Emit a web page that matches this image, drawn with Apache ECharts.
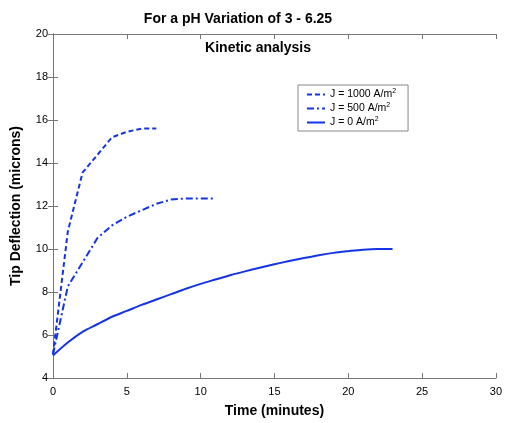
<!DOCTYPE html>
<html><head><meta charset="utf-8">
<script src="https://cdn.jsdelivr.net/npm/echarts@6/dist/echarts.min.js"></script>
<style>html,body{margin:0;padding:0;background:#fff}#c{width:505px;height:423px}</style>
</head><body><div id="c"></div>
<script>
const seriesNames = ['J = 1000 A/m2', 'J = 500 A/m2', 'J = 0 A/m2'];
const t1000 = [0, 1, 2, 4, 5, 6, 7];
const v1000 = [5.1, 10.8, 13.55, 15.2, 15.45, 15.6, 15.6];
const t500 = [0, 1, 3, 4, 5, 7, 8, 9, 11];
const v500 = [5.1, 8.25, 10.5, 11.1, 11.5, 12.1, 12.3, 12.35, 12.35];
const t0 = [0, 1, 2, 3, 4, 5, 6, 7, 8, 9, 10, 11, 12, 13, 14, 15, 16, 17, 18, 19, 20, 21, 22, 23];
const v0 = [5.05, 5.65, 6.15, 6.5, 6.85, 7.12, 7.4, 7.65, 7.9, 8.15, 8.38, 8.58, 8.78, 8.96, 9.13, 9.29, 9.44, 9.58, 9.71, 9.82, 9.9, 9.97, 10.0, 10.0];
const xTicks = [0, 5, 10, 15, 20, 25, 30];
const yTicks = [4, 6, 8, 10, 12, 14, 16, 18, 20];

const zip = (a, b) => a.map((x, i) => [x, b[i]]);
const blue = '#1434e6';
const font = 'Liberation Sans, Arial, Helvetica, sans-serif';
const axisCol = '#777';
const chart = echarts.init(document.getElementById('c'), null, {renderer: 'canvas'});
const common = {
  axisLine: {show: true, lineStyle: {color: axisCol, width: 1}},
  axisTick: {show: true, inside: true, length: 5, lineStyle: {color: axisCol}},
  splitLine: {show: false}
};
const lbl = {color: '#000', fontSize: 11, fontFamily: font};
const titleStyle = {fontSize: 14, fontWeight: 'bold', fontFamily: font, color: '#000'};
chart.setOption({
  animation: false,
  backgroundColor: '#fff',
  title: [
    {text: 'For a pH Variation of 3 - 6.25', left: 238, top: 12, textAlign: 'center', padding: 0,
     textStyle: titleStyle},
    {text: 'Kinetic analysis', left: 258, top: 41, textAlign: 'center', padding: 0,
     textStyle: titleStyle}
  ],
  grid: {left: 53, right: 8, top: 34, bottom: 38, containLabel: false},
  legend: {
    orient: 'vertical', left: 298, top: 85,
    data: seriesNames,
    backgroundColor: '#fff', borderColor: '#888', borderWidth: 1,
    padding: [3, 12, 3, 8], itemGap: 2, itemWidth: 18, itemHeight: 10,
    itemStyle: {opacity: 0},
    textStyle: {fontSize: 10.5, fontFamily: font, color: '#000',
      rich: {sup: {fontSize: 7, verticalAlign: 'top', padding: [0, 0, 6, 0]}}},
    formatter: n => n.replace(/m2$/, 'm{sup|2}')
  },
  xAxis: [
    Object.assign({type: 'value', min: 0, max: 30, interval: 5, position: 'bottom',
      name: 'Time (minutes)', nameLocation: 'middle', nameGap: 26,
      nameTextStyle: titleStyle,
      axisLabel: Object.assign({margin: 8, customValues: xTicks}, lbl)}, common),
    Object.assign({type: 'value', min: 0, max: 30, interval: 5, position: 'top',
      axisLabel: {show: false}}, common)
  ],
  yAxis: [
    Object.assign({type: 'value', min: 4, max: 20, interval: 2, position: 'left',
      name: 'Tip Deflection (microns)', nameLocation: 'middle', nameGap: 30,
      nameTextStyle: titleStyle,
      axisLabel: Object.assign({margin: 5}, lbl)}, common),
    Object.assign({type: 'value', min: 4, max: 20, interval: 2, position: 'right',
      axisLabel: {show: false}}, common)
  ],
  series: [
    {name: seriesNames[0], type: 'line', data: zip(t1000, v1000), showSymbol: false, symbol: 'none',
     lineStyle: {color: blue, width: 2, type: [5, 3]}, itemStyle: {color: blue}},
    {name: seriesNames[1], type: 'line', data: zip(t500, v500), showSymbol: false, symbol: 'none',
     lineStyle: {color: blue, width: 2, type: [7, 3, 2, 3]}, itemStyle: {color: blue}},
    {name: seriesNames[2], type: 'line', data: zip(t0, v0), showSymbol: false, symbol: 'none', smooth: 0.3,
     lineStyle: {color: blue, width: 2, type: 'solid'}, itemStyle: {color: blue}}
  ]
});
</script></body></html>
